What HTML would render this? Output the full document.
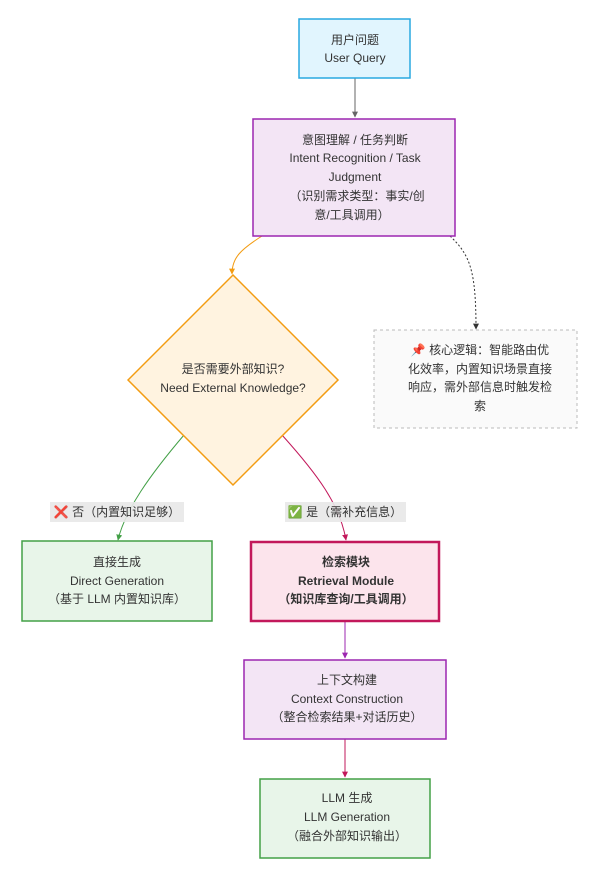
<!DOCTYPE html>
<html><head><meta charset="utf-8"><style>
html,body{margin:0;padding:0;background:#fff;}
svg text{font-family:"Liberation Sans","Noto Sans CJK SC",sans-serif;font-size:12px;fill:#333;text-anchor:middle;}
</style></head><body>
<svg width="610" height="873" viewBox="0 0 610 873" xmlns="http://www.w3.org/2000/svg">
<defs>
<marker id="aG" viewBox="0 0 10 10" refX="9" refY="5" markerWidth="6" markerHeight="6" orient="auto"><path d="M0,0L10,5L0,10z" fill="#666"/></marker>
<marker id="aO" viewBox="0 0 10 10" refX="9" refY="5" markerWidth="6" markerHeight="6" orient="auto"><path d="M0,0L10,5L0,10z" fill="#f39c12"/></marker>
<marker id="aD" viewBox="0 0 10 10" refX="9" refY="5" markerWidth="6" markerHeight="6" orient="auto"><path d="M0,0L10,5L0,10z" fill="#333"/></marker>
<marker id="aGr" viewBox="0 0 10 10" refX="9" refY="5" markerWidth="6" markerHeight="6" orient="auto"><path d="M0,0L10,5L0,10z" fill="#43a047"/></marker>
<marker id="aR" viewBox="0 0 10 10" refX="9" refY="5" markerWidth="6" markerHeight="6" orient="auto"><path d="M0,0L10,5L0,10z" fill="#c2185b"/></marker>
<marker id="aP" viewBox="0 0 10 10" refX="9" refY="5" markerWidth="6" markerHeight="6" orient="auto"><path d="M0,0L10,5L0,10z" fill="#9c27b0"/></marker>
</defs>
<path d="M355,78 L355,117" stroke="#666" stroke-width="1" fill="none" marker-end="url(#aG)"/>
<path d="M262,236 C240,250 232,258 232,274" stroke="#f39c12" stroke-width="1" fill="none" marker-end="url(#aO)"/>
<path d="M450,236 C470,255 476,270 476,329" stroke="#333" stroke-width="1" stroke-dasharray="2,2" fill="none" marker-end="url(#aD)"/>
<path d="M184,435 C150,475 125,510 118,540" stroke="#43a047" stroke-width="1" fill="none" marker-end="url(#aGr)"/>
<path d="M282,435 C318,475 340,505 346,540" stroke="#c2185b" stroke-width="1" fill="none" marker-end="url(#aR)"/>
<path d="M345,621 L345,658" stroke="#9c27b0" stroke-width="1" fill="none" marker-end="url(#aP)"/>
<path d="M345,739 L345,777" stroke="#c2185b" stroke-width="1" fill="none" marker-end="url(#aR)"/>
<rect x="299" y="19" width="111" height="59" fill="#e1f5fe" stroke="#29a8e0" stroke-width="1.5"/>
<text x="355" y="44">用户问题</text><text x="355" y="62">User Query</text>
<rect x="253" y="119" width="202" height="117" fill="#f3e5f5" stroke="#9c27b0" stroke-width="1.5"/>
<text x="355" y="144">意图理解 / 任务判断</text>
<text x="355" y="162">Intent Recognition / Task</text>
<text x="355" y="181">Judgment</text>
<text x="357" y="200">（识别需求类型：事实/创</text>
<text x="352" y="219">意/工具调用）</text>
<polygon points="233,275 338,380 233,485 128,380" fill="#fff3e0" stroke="#f39c12" stroke-width="1.5"/>
<text x="233" y="373">是否需要外部知识?</text>
<text x="233" y="392">Need External Knowledge?</text>
<rect x="374" y="330" width="203" height="98" fill="#fafafa" stroke="#bbb" stroke-width="1" stroke-dasharray="3,3"/>
<text x="480" y="354">📌 核心逻辑：智能路由优</text>
<text x="480" y="373">化效率，内置知识场景直接</text>
<text x="480" y="391">响应，需外部信息时触发检</text>
<text x="480" y="410">索</text>
<rect x="50" y="502" width="134" height="20" fill="#e8e8e8" opacity="0.9"/>
<text x="117" y="516"><tspan fill="#e53e5e">❌</tspan> 否（内置知识足够）</text>
<rect x="285" y="502" width="121" height="20" fill="#e8e8e8" opacity="0.9"/>
<text x="345" y="516"><tspan fill="#43a047">✅</tspan> 是（需补充信息）</text>
<rect x="22" y="541" width="190" height="80" fill="#e8f5e9" stroke="#43a047" stroke-width="1.5"/>
<text x="117" y="566">直接生成</text><text x="117" y="585">Direct Generation</text><text x="117" y="603">（基于 LLM 内置知识库）</text>
<rect x="251" y="542" width="188" height="79" fill="#fce4ec" stroke="#c2185b" stroke-width="2.5"/>
<text x="346" y="566" font-weight="bold">检索模块</text><text x="346" y="585" font-weight="bold">Retrieval Module</text><text x="346" y="603" font-weight="bold">（知识库查询/工具调用）</text>
<rect x="244" y="660" width="202" height="79" fill="#f3e5f5" stroke="#9c27b0" stroke-width="1.5"/>
<text x="347" y="684">上下文构建</text><text x="347" y="703">Context Construction</text><text x="347" y="721">（整合检索结果+对话历史）</text>
<rect x="260" y="779" width="170" height="79" fill="#e8f5e9" stroke="#43a047" stroke-width="1.5"/>
<text x="347" y="802">LLM 生成</text><text x="347" y="821">LLM Generation</text><text x="347" y="840">（融合外部知识输出）</text>
</svg>
</body></html>
